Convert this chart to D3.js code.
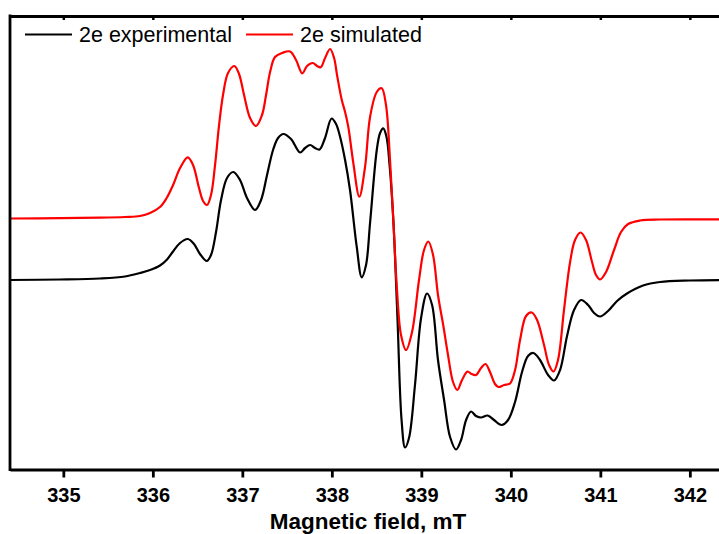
<!DOCTYPE html>
<html>
<head>
<meta charset="utf-8">
<script src="https://cdn.jsdelivr.net/npm/d3@7"></script>
<style>
  body { margin: 0; background: #fff; }
  svg { display: block; font-family: "Liberation Sans", Arial, sans-serif; }
</style>
</head>
<body>
<svg width="719" height="534"></svg>
<script>
// magnetic field (mT) and intensity (a.u.) for the experimental spectrum
var expField = [334.404, 334.963, 335.410, 335.689, 335.857, 335.969, 336.080, 336.159, 336.226, 336.304,
  336.390, 336.460, 336.527, 336.602, 336.650, 336.706, 336.762, 336.829, 336.899, 336.974,
  337.052, 337.142, 337.209, 337.276, 337.343, 337.399, 337.458, 337.544, 337.645, 337.701,
  337.757, 337.812, 337.863, 337.924, 337.997, 338.047, 338.092, 338.148, 338.203, 338.278,
  338.334, 338.382, 338.427, 338.502, 338.539, 338.575, 338.611, 338.645, 338.687, 338.734,
  338.779, 338.818, 338.862, 338.929, 338.997, 339.064, 339.120, 339.186, 339.254, 339.321,
  339.388, 339.444, 339.500, 339.555, 339.611, 339.667, 339.740, 339.812, 339.896, 339.969,
  340.047, 340.125, 340.192, 340.252, 340.326, 340.416, 340.483, 340.550, 340.628, 340.706,
  340.785, 340.863, 340.930, 340.997, 341.086, 341.187, 341.298, 341.477, 341.667, 342.002, 342.393];
var expSignal = [0.00, 0.005, 0.015, 0.035, 0.07, 0.10, 0.145, 0.205, 0.285, 0.37,
  0.41, 0.36, 0.26, 0.19, 0.25, 0.48, 0.80, 1.02, 1.08, 1.00,
  0.82, 0.70, 0.80, 1.05, 1.30, 1.42, 1.46, 1.41, 1.275, 1.32,
  1.35, 1.32, 1.305, 1.42, 1.615, 1.56, 1.433, 1.20, 0.90, 0.333,
  0.027, 0.15, 0.57, 1.30, 1.47, 1.517, 1.43, 1.15, 0.60, -0.40,
  -1.40, -1.675, -1.58, -1.05, -0.38, -0.135, -0.25, -0.80, -1.20, -1.57,
  -1.695, -1.60, -1.40, -1.315, -1.36, -1.375, -1.355, -1.40, -1.45, -1.40,
  -1.22, -0.92, -0.76, -0.73, -0.80, -0.95, -1.005, -0.90, -0.56, -0.30,
  -0.20, -0.25, -0.33, -0.365, -0.31, -0.21, -0.135, -0.055, -0.02, -0.005, 0.00];

// simulated spectrum
var simField = [334.404, 334.963, 335.410, 335.689, 335.857, 335.969, 336.080, 336.148, 336.226, 336.304,
  336.390, 336.449, 336.516, 336.561, 336.606, 336.650, 336.695, 336.740, 336.784, 336.840,
  336.911, 336.963, 337.019, 337.086, 337.153, 337.220, 337.265, 337.310, 337.365, 337.444,
  337.533, 337.600, 337.670, 337.723, 337.787, 337.835, 337.876, 337.924, 337.980, 338.025,
  338.058, 338.111, 338.148, 338.184, 338.240, 338.307, 338.371, 338.427, 338.502, 338.557,
  338.605, 338.650, 338.687, 338.728, 338.773, 338.829, 338.896, 338.974, 339.030, 339.078,
  339.131, 339.186, 339.246, 339.298, 339.354, 339.402, 339.455, 339.516, 339.561, 339.611,
  339.667, 339.717, 339.767, 339.823, 339.862, 339.924, 339.991, 340.047, 340.103, 340.170,
  340.234, 340.293, 340.371, 340.427, 340.477, 340.527, 340.594, 340.662, 340.717, 340.779,
  340.840, 340.907, 340.952, 340.997, 341.064, 341.153, 341.231, 341.310, 341.444, 341.667, 342.393];
var simSignal = [0, 0.003, 0.008, 0.015, 0.025, 0.055, 0.115, 0.195, 0.335, 0.505,
  0.612, 0.535, 0.305, 0.175, 0.135, 0.235, 0.535, 0.935, 1.235, 1.455,
  1.525, 1.445, 1.235, 1.005, 0.925, 1.035, 1.235, 1.465, 1.615, 1.655,
  1.67, 1.585, 1.452, 1.525, 1.555, 1.525, 1.512, 1.605, 1.695, 1.605,
  1.435, 1.185, 1.065, 0.915, 0.555, 0.218, 0.515, 1.015, 1.265, 1.302,
  1.135, 0.585, -0.015, -0.715, -1.165, -1.315, -1.135, -0.615, -0.315, -0.23,
  -0.365, -0.765, -1.075, -1.365, -1.635, -1.715, -1.615, -1.53, -1.555, -1.565,
  -1.495, -1.455, -1.535, -1.655, -1.685, -1.665, -1.65, -1.515, -1.215, -0.975,
  -0.94, -1.015, -1.265, -1.465, -1.53, -1.415, -0.915, -0.435, -0.215, -0.14,
  -0.215, -0.435, -0.565, -0.61, -0.535, -0.315, -0.135, -0.055, -0.02, -0.01, -0.01];

var fieldTicks = [335, 336, 337, 338, 339, 340, 341, 342];
var seriesNames = ["2e experimental", "2e simulated"];
var seriesColors = ["#000000", "#ff0000"];
var simOffset = 0.615; // vertical stacking of the simulated trace

(function() {
  var svg = d3.select("svg");
  var plotLeft = 10, plotTop = 16, plotBottom = 469.5;

  var x = d3.scaleLinear().domain([334.404, 342.4]).range([plotLeft, plotLeft + (342.4 - 334.404) * 89.5]);
  var y = d3.scaleLinear().domain([-1.895, 2.64]).range([plotBottom, plotTop]);

  var line = d3.line()
    .x(function(d) { return x(d[0]); })
    .y(function(d) { return y(d[1]); })
    .curve(d3.curveCatmullRom.alpha(0.5));

  var expData = expField.map(function(f, i) { return [f, expSignal[i]]; });
  var simData = simField.map(function(f, i) { return [f, simSignal[i] + simOffset]; });

  svg.append("path").datum(expData)
    .attr("d", line).attr("fill", "none")
    .attr("stroke", seriesColors[0]).attr("stroke-width", 2.2);
  svg.append("path").datum(simData)
    .attr("d", line).attr("fill", "none")
    .attr("stroke", seriesColors[1]).attr("stroke-width", 2.2);

  // frame: bottom axis, top axis with inner ticks, left line
  var xAxis = svg.append("g")
    .attr("transform", "translate(0," + plotBottom + ")")
    .call(d3.axisBottom(x).tickValues(fieldTicks).tickSize(8).tickSizeOuter(0).tickFormat(d3.format("d")));
  xAxis.select(".domain").attr("stroke-width", 2.8);
  xAxis.selectAll(".tick line").attr("stroke-width", 2.8);
  xAxis.selectAll(".tick text")
    .attr("y", 32.5).attr("dy", null)
    .attr("font-size", 20).attr("font-weight", "bold")
    .attr("font-family", "Liberation Sans, Arial, sans-serif")
    .attr("fill", "#000");

  var topAxis = svg.append("g")
    .attr("transform", "translate(0," + plotTop + ")")
    .call(d3.axisTop(x).tickValues(fieldTicks).tickSize(-4).tickSizeOuter(0).tickFormat(""));
  topAxis.select(".domain").attr("stroke-width", 2.8);
  topAxis.selectAll(".tick line").attr("stroke-width", 2.5);

  svg.append("line")
    .attr("x1", plotLeft).attr("x2", plotLeft)
    .attr("y1", plotTop - 1.4).attr("y2", plotBottom + 1.4)
    .attr("stroke", "#000").attr("stroke-width", 2.8);

  svg.append("text")
    .attr("x", 368).attr("y", 529)
    .attr("text-anchor", "middle")
    .attr("font-size", 22.5).attr("font-weight", "bold")
    .text("Magnetic field, mT");

  // legend
  var legendX = [25, 246];
  seriesNames.forEach(function(name, i) {
    svg.append("line")
      .attr("x1", legendX[i]).attr("x2", legendX[i] + 47)
      .attr("y1", 34.5).attr("y2", 34.5)
      .attr("stroke", seriesColors[i]).attr("stroke-width", 2.2);
    svg.append("text")
      .attr("x", legendX[i] + 54).attr("y", 42)
      .attr("font-size", 21.5)
      .text(name);
  });
})();
</script>
</body>
</html>
